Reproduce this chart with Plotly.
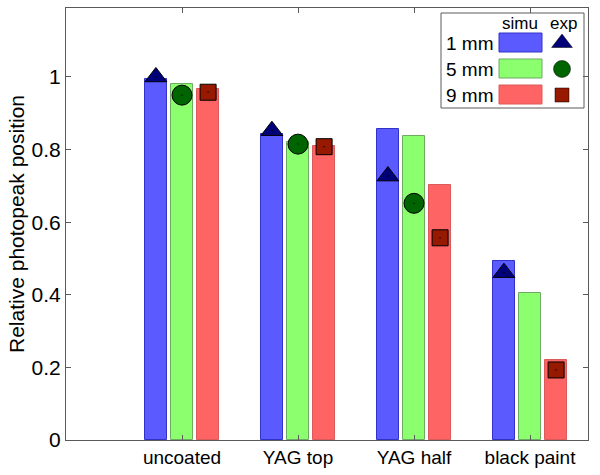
import plotly.graph_objects as go

categories = ["uncoated", "YAG top", "YAG half", "black paint"]
series_names = ["1 mm", "5 mm", "9 mm"]
simu_1mm = [0.995, 0.843, 0.856, 0.493]
simu_5mm = [0.981, 0.822, 0.837, 0.406]
simu_9mm = [0.966, 0.810, 0.702, 0.220]
exp_1mm = [1.000, 0.852, 0.727, 0.461]
exp_5mm = [0.950, 0.815, 0.652, None]
exp_9mm = [0.958, 0.808, 0.557, 0.193]
y_ticks = [0, 0.2, 0.4, 0.6, 0.8, 1.0]

simu = [simu_1mm, simu_5mm, simu_9mm]
exps = [exp_1mm, exp_5mm, exp_9mm]
bar_colors = ["rgb(90,90,255)", "rgb(140,255,110)", "rgb(255,100,100)"]
bar_edges = ["rgb(50,50,200)", "rgb(110,170,100)", "rgb(220,90,90)"]
mk_colors = ["rgb(0,0,120)", "rgb(0,100,0)", "rgb(150,25,0)"]
mk_symbols = ["triangle-up-dot", "circle-dot", "square-dot"]
mk_sizes = [19, 20, 16]
offsets = [-0.225, 0.0, 0.225]
bar_w = 0.185

fig = go.Figure()
idx = list(range(len(categories)))
for k in range(3):
    xs = [i + offsets[k] for i in idx]
    fig.add_trace(go.Bar(x=xs, y=simu[k], width=bar_w, marker=dict(color=bar_colors[k], line=dict(color=bar_edges[k], width=1)), showlegend=False))
for k in range(3):
    xs = [i + offsets[k] for i in idx]
    fig.add_trace(go.Scatter(x=xs, y=exps[k], mode="markers", showlegend=False,
                             marker=dict(symbol=mk_symbols[k], size=mk_sizes[k], color=mk_colors[k], line=dict(color="black", width=1))))

# custom legend on an overlay pixel-like axis
lx0, lx1, ly0, ly1 = 441, 584, 13, 108
rows_y = [43, 69, 95]
fig.add_shape(type="rect", xref="x2", yref="y2", x0=lx0, x1=lx1, y0=ly0, y1=ly1,
              line=dict(color="rgb(90,90,90)", width=1), fillcolor="rgba(0,0,0,0)", layer="above")
fig.add_annotation(xref="x2", yref="y2", x=520, y=23, text="simu", showarrow=False, font=dict(size=17))
fig.add_annotation(xref="x2", yref="y2", x=563, y=23, text="exp", showarrow=False, font=dict(size=17))
for k in range(3):
    fig.add_annotation(xref="x2", yref="y2", x=444, y=rows_y[k], text=series_names[k], showarrow=False,
                       xanchor="left", font=dict(size=19))
    fig.add_shape(type="rect", xref="x2", yref="y2", x0=499, x1=542, y0=rows_y[k] - 10, y1=rows_y[k] + 9,
                  line=dict(color=bar_edges[k], width=1), fillcolor=bar_colors[k], layer="above")
for k in range(3):
    fig.add_trace(go.Scatter(x=[562], y=[rows_y[k]], mode="markers", xaxis="x2", yaxis="y2", showlegend=False,
                             marker=dict(symbol=mk_symbols[k].replace("-dot", ""), size=[18, 17, 14][k],
                                         color=mk_colors[k], opacity=1, line=dict(color="black", width=0.5))))

axis_col = "rgb(90,90,90)"
fig.update_layout(
    width=600, height=475,
    margin=dict(l=66, r=12, t=8, b=35),
    plot_bgcolor="white", paper_bgcolor="white",
    font=dict(family="Liberation Sans, Arial, sans-serif", size=19, color="black"),
    bargap=0, barmode="overlay",
    xaxis=dict(range=[-1, 3.5], tickvals=idx, ticktext=categories, ticks="inside", ticklen=5,
               tickcolor=axis_col, showline=True, linecolor=axis_col, mirror="ticks", showgrid=False,
               zeroline=False, tickfont=dict(size=19), automargin=False),
    yaxis=dict(range=[0, 1.19], tickvals=y_ticks, ticks="inside", ticklen=5, tickcolor=axis_col,
               showline=True, linecolor=axis_col, mirror="ticks", showgrid=False, zeroline=False,
               title=dict(text="Relative photopeak position", font=dict(size=21), standoff=1),
               tickfont=dict(size=21), automargin=False),
    xaxis2=dict(overlaying="x", range=[66, 588], visible=False, showgrid=False),
    yaxis2=dict(overlaying="y", range=[440, 8], visible=False, showgrid=False),
)

fig.write_html("out.html", config={"displayModeBar": False},
               post_script="document.body.style.margin='0';")
